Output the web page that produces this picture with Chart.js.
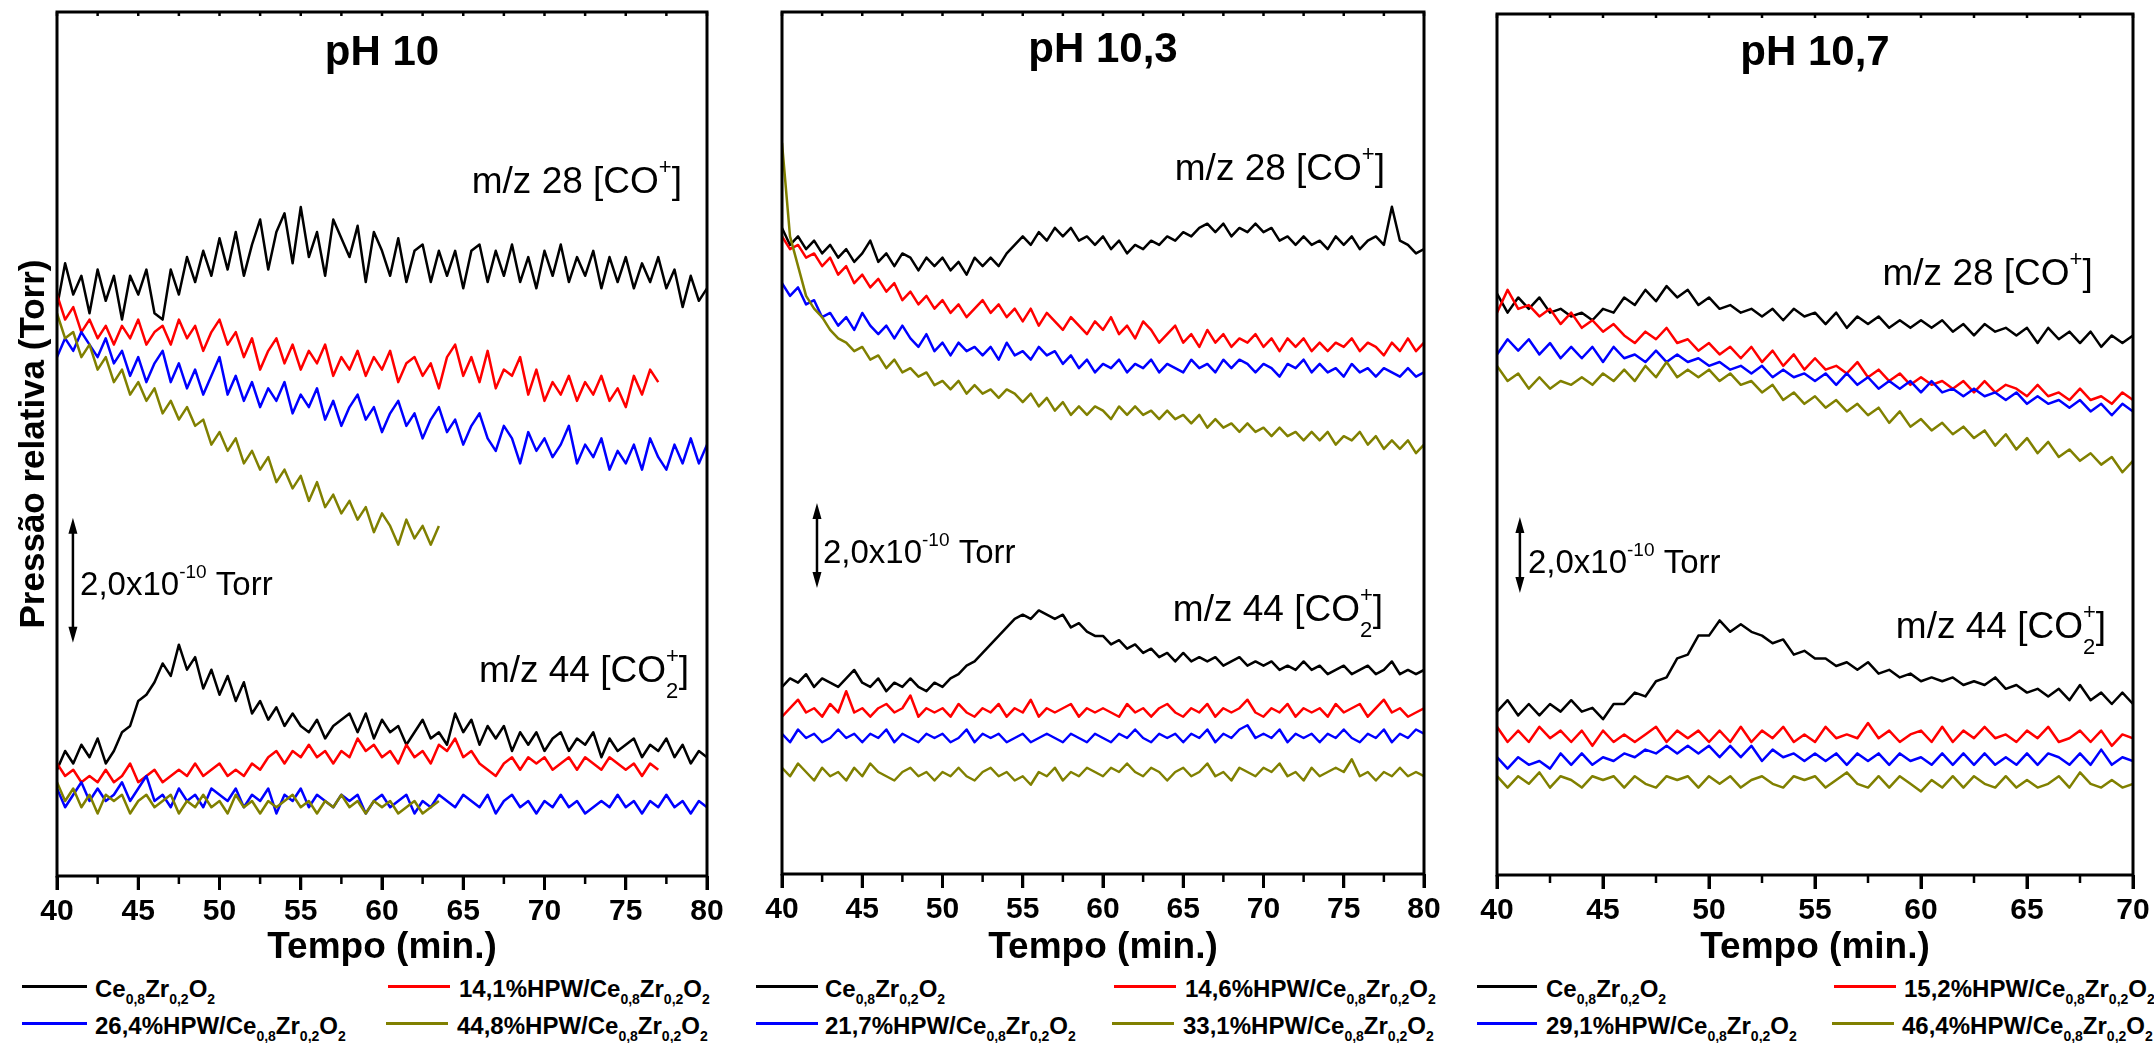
<!DOCTYPE html>
<html lang="pt">
<head>
<meta charset="utf-8">
<title>Pressão relativa</title>
<script src="https://cdn.jsdelivr.net/npm/chart.js@4.4.1/dist/chart.umd.min.js"></script>
<style>
html,body{margin:0;padding:0;background:#fff;}
body{position:relative;width:2154px;height:1043px;overflow:hidden;font-family:Arial,"Liberation Sans",sans-serif;color:#000;}
canvas{position:absolute;top:0;}
.lg{position:absolute;height:0;}
.lg i{position:absolute;left:0;top:-1.5px;height:3px;}
.lg span{position:absolute;top:-10px;white-space:nowrap;font-weight:bold;font-size:24px;line-height:25px;}
.lg sub{font-size:14px;line-height:0;vertical-align:-7px;}
</style>
</head>
<body>
<canvas id="ph10" width="730" height="970" style="left:0px"></canvas>
<canvas id="ph103" width="710" height="970" style="left:740px"></canvas>
<canvas id="ph107" width="694" height="970" style="left:1460px"></canvas>
<div id="legends"></div>
<script>
// time axis: every series starts at 40 min, one reading every 0.5 min
const T_START = 40;
const T_STEP = 0.5;
const colors = ['#000000', '#ff0000', '#0000ff', '#808000'];
const support = 'Ce<sub>0,8</sub>Zr<sub>0,2</sub>O<sub>2</sub>';
const ticks40to80 = [40, 45, 50, 55, 60, 65, 70, 75, 80];
const minor40to80 = [42.5, 47.5, 52.5, 57.5, 62.5, 67.5, 72.5, 77.5];
const ticks40to70 = [40, 45, 50, 55, 60, 65, 70];
const minor40to70 = [42.5, 47.5, 52.5, 57.5, 62.5, 67.5];

// ---- pH 10 (units of 1e-10 Torr, arbitrary offset) ----
const loads_pH10 = ['', '14,1%HPW/', '26,4%HPW/', '44,8%HPW/'];
const co28_pH10_ref = [9.1,9.8,9.3,9.6,9.0,9.7,9.2,9.6,8.9,9.6, 9.3,9.7,9.0,8.9,9.7,9.3,9.9,9.5,10.0,9.6,
  10.2,9.7,10.3,9.6,10.1,10.5,9.7,10.3,10.6,9.8, 10.7,9.9,10.3,9.6,10.5,10.2,9.9,10.4,9.5,10.3,
  10.0,9.6,10.2,9.5,10.0,10.1,9.5,10.0,9.6,10.0, 9.4,10.0,10.1,9.5,10.0,9.6,10.1,9.5,9.9,9.4,
  10.0,9.6,10.1,9.5,9.9,9.6,10.0,9.4,9.9,9.5, 9.9,9.4,9.8,9.5,9.9,9.4,9.7,9.1,9.6,9.2, 9.4];
const co28_pH10_141 = [9.3,8.9,9.1,8.7,8.9,8.6,8.8,8.5,8.8,8.6, 8.9,8.5,8.7,8.8,8.5,8.9,8.6,8.8,8.4,8.7,
  8.9,8.5,8.7,8.3,8.6,8.1,8.4,8.6,8.2,8.5, 8.1,8.4,8.2,8.5,8.0,8.3,8.1,8.4,8.0,8.3,
  8.1,8.4,7.9,8.2,8.3,8.0,8.2,7.8,8.3,8.5, 8.0,8.3,7.9,8.4,7.8,8.1,8.0,8.3,7.7,8.1,
  7.6,7.9,7.7,8.0,7.6,7.9,7.7,8.0,7.6,7.8, 7.5,8.0,7.7,8.1,7.9];
const co28_pH10_264 = [8.3,8.6,8.4,8.7,8.5,8.3,8.6,8.2,8.4,8.0, 8.3,7.9,8.2,8.4,7.9,8.2,7.8,8.1,7.7,8.0,
  8.3,7.7,8.0,7.6,7.9,7.5,7.8,7.6,7.9,7.4, 7.7,7.5,7.8,7.3,7.6,7.2,7.5,7.7,7.3,7.5,
  7.1,7.4,7.6,7.2,7.4,7.0,7.3,7.5,7.1,7.3, 6.9,7.2,7.4,7.0,6.8,7.2,7.0,6.6,7.1,6.8,
  7.0,6.7,6.9,7.2,6.6,6.9,6.7,7.0,6.5,6.8, 6.6,6.9,6.5,7.0,6.7,6.5,6.9,6.6,7.0,6.6, 6.9];
const co28_pH10_448 = [9.0,8.6,8.7,8.3,8.5,8.1,8.3,7.9,8.1,7.7, 7.9,7.6,7.8,7.4,7.6,7.3,7.5,7.2,7.3,6.9,
  7.1,6.8,7.0,6.6,6.8,6.5,6.7,6.3,6.5,6.2, 6.4,6.0,6.3,5.9,6.1,5.8,6.0,5.7,5.9,5.5,
  5.8,5.6,5.3,5.7,5.4,5.6,5.3,5.6];
const co44_pH10_ref = [1.7,2.0,1.8,2.1,1.9,2.2,1.8,2.0,2.3,2.4, 2.8,2.9,3.1,3.4,3.2,3.7,3.3,3.5,3.0,3.3,
  2.9,3.2,2.8,3.1,2.6,2.8,2.5,2.7,2.4,2.6, 2.4,2.3,2.5,2.2,2.4,2.5,2.6,2.3,2.6,2.2,
  2.5,2.3,2.4,2.1,2.3,2.5,2.2,2.3,2.1,2.6, 2.3,2.5,2.1,2.4,2.2,2.4,2.0,2.3,2.1,2.3,
  2.0,2.2,2.3,2.0,2.2,2.1,2.3,1.9,2.2,2.0, 2.1,2.2,1.9,2.1,2.0,2.2,1.9,2.1,1.8,2.0, 1.9];
const co44_pH10_141 = [1.8,1.6,1.7,1.5,1.6,1.5,1.7,1.5,1.6,1.8, 1.5,1.6,1.7,1.5,1.6,1.7,1.6,1.8,1.6,1.7,
  1.8,1.6,1.7,1.6,1.8,1.7,1.9,2.0,1.8,2.0, 1.9,2.1,1.9,2.0,1.8,2.0,1.9,2.2,2.0,2.1,
  1.9,2.0,1.8,2.1,1.9,2.0,1.8,2.1,2.0,2.2, 1.9,2.0,1.8,1.7,1.6,1.8,1.9,1.7,1.9,1.8,
  1.9,1.7,1.8,1.9,1.7,1.9,1.8,1.7,1.9,1.8, 1.7,1.8,1.6,1.8,1.7];
const co44_pH10_264 = [1.4,1.1,1.3,1.5,1.2,1.4,1.2,1.3,1.5,1.2, 1.4,1.6,1.2,1.3,1.1,1.4,1.2,1.3,1.1,1.4,
  1.3,1.2,1.4,1.1,1.3,1.2,1.4,1.0,1.3,1.2, 1.4,1.1,1.3,1.2,1.1,1.3,1.2,1.3,1.0,1.2,
  1.3,1.1,1.2,1.3,1.0,1.2,1.1,1.3,1.2,1.1, 1.3,1.2,1.1,1.3,1.0,1.2,1.3,1.1,1.2,1.0,
  1.2,1.1,1.3,1.1,1.2,1.0,1.1,1.2,1.1,1.3, 1.1,1.2,1.0,1.2,1.1,1.3,1.1,1.2,1.0,1.2, 1.1];
const co44_pH10_448 = [1.5,1.2,1.4,1.1,1.3,1.0,1.3,1.2,1.3,1.0, 1.2,1.3,1.1,1.2,1.3,1.0,1.2,1.1,1.3,1.1,
  1.2,1.0,1.3,1.1,1.2,1.0,1.2,1.1,1.2,1.3, 1.1,1.2,1.0,1.2,1.1,1.3,1.1,1.2,1.0,1.2,
  1.1,1.2,1.0,1.1,1.2,1.0,1.1,1.2];

// ---- pH 10,3 ----
const loads_pH103 = ['', '14,6%HPW/', '21,7%HPW/', '33,1%HPW/'];
const co28_pH103_ref = [15.2,14.8,15.0,14.7,14.9,14.6,14.8,14.5,14.7,14.4, 14.6,14.9,14.4,14.6,14.3,14.6,14.5,14.2,14.5,14.3,
  14.5,14.2,14.4,14.1,14.5,14.3,14.5,14.3,14.6,14.8, 15.0,14.8,15.1,14.9,15.2,15.0,15.2,14.9,15.0,14.8,
  15.0,14.7,14.9,14.6,14.8,14.7,14.9,14.8,15.0,14.9, 15.1,15.0,15.2,15.3,15.1,15.3,15.0,15.2,15.1,15.3,
  15.1,15.2,14.9,15.0,14.8,15.0,14.8,14.9,14.7,15.0, 14.8,15.0,14.7,14.9,15.0,14.8,15.7,14.9,14.8,14.6, 14.7];
const co28_pH103_146 = [15.0,14.7,14.8,14.5,14.6,14.3,14.5,14.1,14.3,13.9, 14.1,13.8,14.0,13.7,13.9,13.5,13.7,13.4,13.6,13.3,
  13.5,13.2,13.4,13.1,13.3,13.5,13.2,13.4,13.1,13.3, 13.0,13.3,12.9,13.2,13.0,12.8,13.1,12.9,12.7,13.0,
  12.8,13.1,12.7,12.9,12.6,13.0,12.8,12.5,12.7,12.9, 12.5,12.7,12.4,12.8,12.5,12.7,12.4,12.6,12.5,12.7,
  12.4,12.6,12.3,12.6,12.4,12.6,12.3,12.5,12.3,12.5, 12.4,12.6,12.3,12.5,12.4,12.2,12.5,12.3,12.6,12.3, 12.5];
const co28_pH103_217 = [13.9,13.6,13.8,13.4,13.5,13.1,13.2,12.9,13.1,12.8, 13.2,12.9,12.7,12.9,12.6,12.9,12.6,12.4,12.7,12.3,
  12.5,12.2,12.5,12.3,12.4,12.2,12.4,12.1,12.5,12.2, 12.3,12.1,12.4,12.2,12.3,12.0,12.2,11.9,12.1,11.8,
  12.0,11.9,12.1,11.8,12.0,11.9,12.1,11.8,12.0,11.9, 11.8,12.1,11.9,12.0,11.8,12.1,11.9,12.1,12.0,11.8,
  12.0,11.9,11.7,12.0,11.9,12.1,11.8,12.0,11.8,11.9, 11.7,12.0,11.8,11.9,11.7,11.9,11.8,11.7,11.9,11.7, 11.8];
const co28_pH103_331 = [17.2,15.0,14.3,13.6,13.3,13.1,12.8,12.6,12.5,12.3, 12.4,12.1,12.2,11.9,12.1,11.8,11.9,11.7,11.8,11.5,
  11.6,11.4,11.6,11.3,11.5,11.3,11.4,11.2,11.4,11.3, 11.1,11.3,11.0,11.2,10.9,11.1,10.8,11.0,10.8,11.0,
  10.9,10.7,11.0,10.8,11.0,10.8,10.9,10.7,10.9,10.7, 10.8,10.6,10.8,10.5,10.7,10.5,10.6,10.4,10.6,10.4,
  10.5,10.3,10.5,10.3,10.4,10.2,10.4,10.2,10.4,10.1, 10.3,10.2,10.4,10.1,10.3,10.0,10.2,10.0,10.2,9.9, 10.1];
const co44_pH103_ref = [4.4,4.6,4.5,4.7,4.4,4.6,4.5,4.4,4.6,4.8, 4.5,4.4,4.6,4.3,4.5,4.4,4.6,4.4,4.3,4.5,
  4.4,4.6,4.7,4.9,5.0,5.2,5.4,5.6,5.8,6.0, 6.1,6.0,6.2,6.1,6.0,6.1,5.8,5.9,5.7,5.6,
  5.6,5.4,5.5,5.3,5.4,5.2,5.3,5.1,5.2,5.0, 5.2,5.0,5.1,5.0,5.1,4.9,5.0,5.1,4.9,5.0,
  4.9,5.0,4.8,4.9,4.8,5.0,4.8,4.9,4.7,4.8, 4.9,4.7,4.8,4.9,4.7,4.8,5.0,4.7,4.8,4.7, 4.8];
const co44_pH103_146 = [3.7,3.9,4.1,3.8,3.9,3.7,4.0,3.8,4.3,3.8, 3.9,3.7,3.9,4.0,3.8,3.9,4.2,3.7,3.9,3.8,
  3.9,3.7,4.0,3.8,3.7,3.9,3.8,4.0,3.7,3.9, 3.8,4.1,3.7,3.9,3.8,3.9,4.0,3.7,3.9,3.8,
  3.9,3.8,3.7,4.0,3.8,3.9,3.7,3.9,4.0,3.8, 3.7,3.9,3.8,4.0,3.7,3.9,3.8,3.9,4.1,3.8,
  3.7,3.9,3.8,4.0,3.7,3.9,3.8,3.9,3.7,4.0, 3.8,3.9,4.0,3.7,3.9,4.1,3.8,3.9,3.7,3.8, 3.9];
const co44_pH103_217 = [3.3,3.1,3.4,3.2,3.3,3.1,3.2,3.4,3.2,3.3, 3.1,3.3,3.2,3.4,3.1,3.3,3.2,3.1,3.3,3.2,
  3.3,3.1,3.2,3.4,3.1,3.3,3.2,3.3,3.1,3.2, 3.3,3.1,3.2,3.3,3.2,3.1,3.3,3.2,3.1,3.3,
  3.2,3.1,3.3,3.2,3.4,3.2,3.1,3.3,3.2,3.3, 3.1,3.3,3.2,3.4,3.1,3.3,3.2,3.4,3.5,3.2,
  3.3,3.2,3.4,3.1,3.3,3.2,3.3,3.1,3.3,3.2, 3.4,3.2,3.1,3.3,3.2,3.4,3.1,3.3,3.2,3.4, 3.3];
const co44_pH103_331 = [2.5,2.3,2.6,2.4,2.2,2.5,2.3,2.4,2.2,2.5, 2.3,2.6,2.4,2.3,2.2,2.4,2.5,2.3,2.4,2.2,
  2.4,2.3,2.5,2.3,2.2,2.4,2.5,2.3,2.4,2.2, 2.3,2.1,2.4,2.3,2.5,2.2,2.4,2.3,2.5,2.4,
  2.3,2.5,2.4,2.6,2.4,2.3,2.5,2.4,2.2,2.4, 2.5,2.3,2.4,2.6,2.3,2.4,2.2,2.5,2.4,2.3,
  2.5,2.4,2.6,2.3,2.4,2.2,2.5,2.3,2.4,2.5, 2.4,2.7,2.3,2.4,2.2,2.4,2.3,2.5,2.3,2.4, 2.3];

// ---- pH 10,7 ----
const loads_pH107 = ['', '15,2%HPW/', '29,1%HPW/', '46,4%HPW/'];
const co28_pH107_ref = [15.3,14.8,15.2,14.9,15.2,14.8,14.9,14.7,14.8,14.6, 14.9,14.8,15.2,15.0,15.4,15.1,15.5,15.2,15.4,15.0,
  15.2,14.9,15.0,14.8,14.9,14.7,14.9,14.6,14.9,14.7, 14.8,14.5,14.8,14.4,14.7,14.5,14.7,14.4,14.6,14.4,
  14.6,14.4,14.6,14.3,14.5,14.2,14.5,14.3,14.4,14.2, 14.4,14.0,14.4,14.1,14.3,14.0,14.3,13.9,14.2,14.0, 14.2];
const co28_pH107_152 = [14.8,15.4,14.9,15.0,14.7,14.9,14.5,14.8,14.4,14.6, 14.3,14.5,14.2,14.0,14.3,14.1,14.4,14.0,14.1,13.8,
  14.0,13.7,13.9,13.6,13.9,13.5,13.8,13.4,13.7,13.3, 13.6,13.3,13.4,13.2,13.5,13.1,13.3,13.0,13.2,12.9,
  13.1,12.9,13.0,12.8,13.0,12.7,13.0,12.7,12.9,12.8, 12.6,12.9,12.6,12.7,12.5,12.8,12.5,12.6,12.4,12.7, 12.5];
const co28_pH107_291 = [13.7,14.1,13.8,14.1,13.7,14.0,13.6,13.9,13.6,13.9, 13.5,13.9,13.6,13.7,13.5,13.8,13.5,13.7,13.5,13.6,
  13.4,13.5,13.3,13.4,13.2,13.4,13.1,13.3,13.1,13.2, 13.0,13.2,12.9,13.2,12.9,13.1,12.8,13.0,12.8,13.0,
  12.7,13.0,12.7,12.8,12.6,12.8,12.6,12.7,12.5,12.7, 12.4,12.6,12.4,12.5,12.3,12.5,12.2,12.4,12.1,12.4, 12.2];
const co28_pH107_464 = [13.4,13.0,13.2,12.8,13.1,12.8,13.0,12.9,13.1,12.9, 13.2,13.0,13.3,13.0,13.4,13.1,13.5,13.1,13.3,13.1,
  13.3,13.0,13.2,12.9,13.0,12.7,12.9,12.5,12.7,12.4, 12.6,12.3,12.5,12.2,12.4,12.1,12.3,11.9,12.2,11.8,
  12.0,11.7,11.9,11.6,11.8,11.5,11.7,11.3,11.6,11.2, 11.5,11.1,11.4,11.0,11.2,10.9,11.1,10.8,11.0,10.6, 10.9];
const co44_pH107_ref = [4.3,4.6,4.2,4.5,4.2,4.5,4.3,4.6,4.3,4.4, 4.1,4.5,4.5,4.8,4.7,5.1,5.2,5.7,5.8,6.3,
  6.3,6.7,6.4,6.6,6.4,6.3,6.1,6.2,5.8,5.9, 5.7,5.7,5.5,5.6,5.4,5.6,5.3,5.4,5.2,5.3,
  5.1,5.2,5.1,5.2,5.0,5.1,5.0,5.2,4.9,5.0, 4.8,4.9,4.7,4.9,4.6,5.0,4.6,4.8,4.5,4.8, 4.5];
const co44_pH107_152 = [3.9,3.5,3.8,3.5,3.9,3.6,3.8,3.5,3.8,3.4, 3.8,3.5,3.7,3.5,3.7,3.9,3.5,3.8,3.6,3.8,
  3.5,3.8,3.5,3.9,3.5,3.8,3.6,3.9,3.5,3.7, 3.5,3.9,3.6,3.7,3.6,4.0,3.6,3.8,3.5,3.7,
  3.8,3.5,3.9,3.5,3.8,3.6,3.9,3.6,3.7,3.5, 3.8,3.6,3.9,3.5,3.6,3.8,3.5,3.8,3.4,3.7, 3.6];
const co44_pH107_291 = [3.1,2.8,3.1,2.9,3.0,2.8,3.2,2.9,3.2,2.9, 3.1,3.0,3.2,3.1,3.3,3.2,3.4,3.2,3.4,3.2,
  3.4,3.1,3.4,3.1,3.4,3.0,3.3,3.1,3.2,3.0, 3.2,3.0,3.2,2.9,3.2,3.0,3.2,2.9,3.2,3.0,
  3.1,2.9,3.2,2.9,3.2,2.9,3.2,2.9,3.1,2.9, 3.2,2.9,3.2,3.1,2.9,3.2,2.9,3.3,2.9,3.1, 3.0];
const co44_pH107_464 = [2.6,2.3,2.6,2.4,2.7,2.3,2.6,2.5,2.3,2.6, 2.5,2.6,2.3,2.6,2.4,2.3,2.6,2.5,2.6,2.3,
  2.6,2.4,2.6,2.3,2.5,2.6,2.4,2.3,2.6,2.5, 2.6,2.3,2.5,2.7,2.4,2.3,2.6,2.3,2.6,2.4,
  2.2,2.5,2.3,2.6,2.3,2.6,2.4,2.3,2.6,2.3, 2.5,2.3,2.4,2.6,2.3,2.7,2.4,2.3,2.5,2.3, 2.4];

const FONT = 'Arial, "Liberation Sans", sans-serif';
const BAR = 2.0; // 2,0x10^-10 Torr

function toPoints(arr) {
  return arr.map((v, i) => ({ x: T_START + i * T_STEP, y: v }));
}

// rich text with sub/superscripts drawn on the canvas
function richWidth(ctx, parts, st) {
  let w = 0;
  parts.forEach(p => {
    if (p.t) { ctx.font = st.main; w += ctx.measureText(p.t).width; }
    else {
      ctx.font = st.small;
      w += Math.max(p.sub ? ctx.measureText(p.sub).width : 0, p.sup ? ctx.measureText(p.sup).width : 0);
    }
  });
  return w;
}
function drawRich(ctx, x, y, parts, align, st) {
  let cx = align === 'right' ? x - richWidth(ctx, parts, st) : x;
  ctx.textAlign = 'left';
  ctx.textBaseline = 'alphabetic';
  parts.forEach(p => {
    if (p.t) { ctx.font = st.main; ctx.fillText(p.t, cx, y); cx += ctx.measureText(p.t).width; }
    else {
      ctx.font = st.small;
      let w = 0;
      if (p.sub) { ctx.fillText(p.sub, cx, y + st.down); w = ctx.measureText(p.sub).width; }
      if (p.sup) { ctx.fillText(p.sup, cx, y - st.up); w = Math.max(w, ctx.measureText(p.sup).width); }
      cx += w;
    }
  });
}

const labelStyle = { main: '37px ' + FONT, small: '22px ' + FONT, up: 19, down: 16 };
const barStyle = { main: '33px ' + FONT, small: '19px ' + FONT, up: 17, down: 14 };
const co28Text = [{ t: 'm/z 28 [CO' }, { sup: '+' }, { t: ']' }];
const co44Text = [{ t: 'm/z 44 [CO' }, { sub: '2', sup: '+' }, { t: ']' }];
const barText = [{ t: '2,0x10' }, { sup: '-10' }, { t: ' Torr' }];

function makePanel(id, p) {
  const datasets = [];
  [p.co28, p.co44].forEach(group => group.forEach((arr, k) => {
    datasets.push({
      data: toPoints(arr),
      borderColor: colors[k],
      borderWidth: 2.5,
      pointRadius: 0,
      tension: 0,
      borderJoinStyle: 'round',
      order: 4 - k
    });
  }));

  const decor = {
    id: 'decor',
    afterDatasetsDraw(chart) {
      const { ctx, chartArea: a, scales: { x, y } } = chart;
      ctx.save();
      ctx.fillStyle = '#000';
      ctx.strokeStyle = '#000';
      // panel title
      ctx.font = 'bold 42px ' + FONT;
      ctx.textAlign = 'center';
      ctx.textBaseline = 'alphabetic';
      ctx.fillText(p.title, (a.left + a.right) / 2, a.top + p.titleDy);
      // fragment labels
      drawRich(ctx, x.getPixelForValue(p.co28Label[0]), y.getPixelForValue(p.co28Label[1]), co28Text, 'right', labelStyle);
      drawRich(ctx, x.getPixelForValue(p.co44Label[0]), y.getPixelForValue(p.co44Label[1]), co44Text, 'right', labelStyle);
      // scale bar with two arrow heads
      const bx = x.getPixelForValue(p.bar[0]);
      const yb = y.getPixelForValue(p.bar[1]);
      const yt = y.getPixelForValue(p.bar[1] + BAR);
      ctx.lineWidth = 2.5;
      ctx.beginPath();
      ctx.moveTo(bx, yt + 8);
      ctx.lineTo(bx, yb - 8);
      ctx.stroke();
      ctx.beginPath();
      ctx.moveTo(bx, yt); ctx.lineTo(bx - 4.5, yt + 16); ctx.lineTo(bx + 4.5, yt + 16); ctx.closePath();
      ctx.moveTo(bx, yb); ctx.lineTo(bx - 4.5, yb - 16); ctx.lineTo(bx + 4.5, yb - 16); ctx.closePath();
      ctx.fill();
      drawRich(ctx, x.getPixelForValue(p.barText[0]), y.getPixelForValue(p.barText[1]), barText, 'left', barStyle);
      ctx.restore();
    },
    afterDraw(chart) {
      const { ctx, chartArea: a, scales: { x } } = chart;
      ctx.save();
      ctx.strokeStyle = '#000';
      ctx.lineWidth = 3;
      ctx.strokeRect(a.left, a.top, a.right - a.left, a.bottom - a.top);
      ctx.beginPath();
      p.ticks.forEach(t => {
        const px = x.getPixelForValue(t);
        ctx.moveTo(px, a.bottom); ctx.lineTo(px, a.bottom + 14);
      });
      ctx.stroke();
      ctx.lineWidth = 2.5;
      ctx.beginPath();
      p.minor.forEach(t => {
        const px = x.getPixelForValue(t);
        ctx.moveTo(px, a.bottom); ctx.lineTo(px, a.bottom + 8);
      });
      p.ticks.concat(p.minor).forEach(t => {
        const px = x.getPixelForValue(t);
        ctx.moveTo(px, a.top); ctx.lineTo(px, a.top + 4);
      });
      ctx.stroke();
      ctx.restore();
    }
  };

  return new Chart(document.getElementById(id), {
    type: 'line',
    data: { datasets },
    options: {
      responsive: false,
      animation: false,
      events: [],
      layout: { padding: { top: p.top, right: p.right, left: 0, bottom: 0 } },
      plugins: { legend: { display: false }, tooltip: { enabled: false } },
      scales: {
        x: {
          type: 'linear',
          min: T_START,
          max: p.ticks[p.ticks.length - 1],
          afterBuildTicks: s => { s.ticks = p.ticks.map(v => ({ value: v })); },
          ticks: { color: '#000', font: { family: FONT, size: 30, weight: 'bold' }, padding: 4, maxRotation: 0, autoSkip: false },
          grid: { drawOnChartArea: false, drawTicks: true, tickLength: 14, tickWidth: 3, tickColor: '#000' },
          border: { display: false },
          title: { display: true, text: 'Tempo (min.)', color: '#000', font: { family: FONT, size: 37, weight: 'bold' }, padding: { top: 0, bottom: 0 } },
          afterFit: s => { s.height = p.xAxisH; }
        },
        y: {
          min: 0,
          max: p.yMax,
          ticks: { display: false },
          grid: { display: false },
          border: { display: false },
          title: p.yTitle
            ? { display: true, text: p.yTitle, color: '#000', font: { family: FONT, size: 35, weight: 'bold' }, padding: { top: 13, bottom: 0 } }
            : { display: false },
          afterFit: s => { s.width = p.yAxisW; }
        }
      }
    },
    plugins: [decor]
  });
}

makePanel('ph10', {
  title: 'pH 10', titleDy: 53, yTitle: 'Pressão relativa (Torr)',
  co28: [co28_pH10_ref, co28_pH10_141, co28_pH10_264, co28_pH10_448],
  co44: [co44_pH10_ref, co44_pH10_141, co44_pH10_264, co44_pH10_448],
  ticks: ticks40to80, minor: minor40to80,
  top: 12, right: 23, yAxisW: 57, xAxisH: 94, yMax: 13.82,
  co28Label: [78.46, 10.93], co44Label: [78.9, 3.1],
  bar: [40.98, 3.73], barText: [41.42, 4.5]
});
makePanel('ph103', {
  title: 'pH 10,3', titleDy: 50,
  co28: [co28_pH103_ref, co28_pH103_146, co28_pH103_217, co28_pH103_331],
  co44: [co44_pH103_ref, co44_pH103_146, co44_pH103_217, co44_pH103_331],
  ticks: ticks40to80, minor: minor40to80,
  top: 12, right: 26, yAxisW: 42, xAxisH: 96, yMax: 20.28,
  co28Label: [77.57, 16.33], co44Label: [77.45, 5.95],
  bar: [42.18, 6.73], barText: [42.55, 7.32]
});
makePanel('ph107', {
  title: 'pH 10,7', titleDy: 51,
  co28: [co28_pH107_ref, co28_pH107_152, co28_pH107_291, co28_pH107_464],
  co44: [co44_pH107_ref, co44_pH107_152, co44_pH107_291, co44_pH107_464],
  ticks: ticks40to70, minor: minor40to70,
  top: 14, right: 21, yAxisW: 37, xAxisH: 95, yMax: 22.66,
  co28Label: [68.1, 15.53], co44Label: [68.73, 6.24],
  bar: [41.08, 7.42], barText: [41.46, 7.95]
});

// legends: [line start, line end, text start] per series, two rows
const legendRows = [986, 1023];
const legendSpots = [
  { loads: loads_pH10, pos: [[22, 87, 95], [388, 450, 459], [22, 87, 95], [386, 448, 457]] },
  { loads: loads_pH103, pos: [[756, 818, 825], [1114, 1176, 1185], [756, 818, 825], [1112, 1174, 1183]] },
  { loads: loads_pH107, pos: [[1477, 1537, 1546], [1834, 1896, 1904], [1477, 1537, 1546], [1832, 1894, 1902]] }
];
const holder = document.getElementById('legends');
legendSpots.forEach(g => {
  g.loads.forEach((load, k) => {
    const [l0, l1, tx] = g.pos[k];
    const d = document.createElement('div');
    d.className = 'lg';
    d.style.left = l0 + 'px';
    d.style.top = legendRows[k < 2 ? 0 : 1] + 'px';
    d.innerHTML = '<i style="width:' + (l1 - l0) + 'px;background:' + colors[k] + '"></i>' +
      '<span style="left:' + (tx - l0) + 'px">' + load + support + '</span>';
    holder.appendChild(d);
  });
});
</script>
</body>
</html>
